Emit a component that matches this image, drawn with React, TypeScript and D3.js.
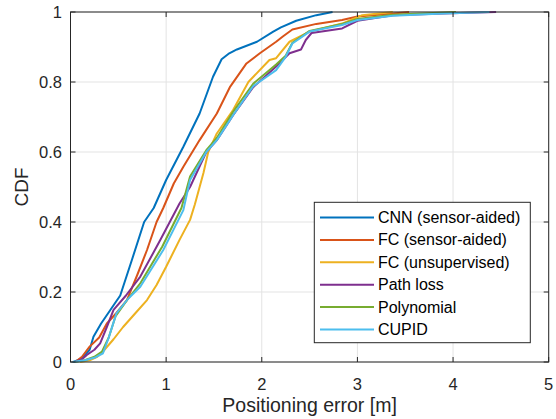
import React from "react";
import * as d3 from "d3";

const W = 556, H = 419;
const M = { left: 70.5, right: 548.7, top: 12, bottom: 362 };

const xTicks = [0, 1, 2, 3, 4, 5];
const yTicks = [0, 0.2, 0.4, 0.6, 0.8, 1];
const yTickLabels = ["0", "0.2", "0.4", "0.6", "0.8", "1"];

const seriesNames = ["CNN (sensor-aided)", "FC (sensor-aided)", "FC (unsupervised)", "Path loss", "Polynomial", "CUPID"];
const seriesColors = ["#0072BD", "#D95319", "#EDB120", "#7E2F8E", "#77AC30", "#4DBEEE"];

// CNN (sensor-aided)
const cnnErr = [0.03, 0.12, 0.2, 0.24, 0.32, 0.42, 0.52, 0.64, 0.77, 0.87, 1.0, 1.18, 1.35, 1.49, 1.58, 1.66, 1.74, 1.95, 2.12, 2.2, 2.36, 2.57, 2.74];
const cnnCdf = [0, 0.01, 0.035, 0.072, 0.11, 0.15, 0.19, 0.29, 0.4, 0.44, 0.52, 0.615, 0.71, 0.815, 0.865, 0.882, 0.893, 0.915, 0.944, 0.956, 0.975, 0.991, 1];
// FC (sensor-aided)
const fcsErr = [0.05, 0.12, 0.2, 0.3, 0.38, 0.48, 0.59, 0.7, 0.8, 0.9, 0.97, 1.08, 1.18, 1.35, 1.53, 1.67, 1.84, 1.98, 2.15, 2.22, 2.32, 2.57, 2.84, 3.0, 3.37, 3.54];
const fcsCdf = [0, 0.015, 0.044, 0.07, 0.11, 0.14, 0.177, 0.25, 0.32, 0.4, 0.44, 0.51, 0.558, 0.634, 0.71, 0.787, 0.853, 0.882, 0.915, 0.93, 0.95, 0.966, 0.977, 0.987, 0.996, 1];
// FC (unsupervised)
const fcuErr = [0.1, 0.2, 0.28, 0.34, 0.45, 0.55, 0.68, 0.8, 0.9, 1.0, 1.14, 1.25, 1.3, 1.39, 1.44, 1.53, 1.7, 1.86, 2.08, 2.15, 2.29, 2.5, 2.84, 3.05, 3.37];
const fcuCdf = [0, 0.005, 0.015, 0.03, 0.065, 0.1, 0.14, 0.177, 0.22, 0.272, 0.349, 0.406, 0.45, 0.54, 0.6, 0.653, 0.72, 0.8, 0.863, 0.868, 0.915, 0.944, 0.967, 0.991, 1];
// Path loss
const plErr = [0.05, 0.12, 0.17, 0.25, 0.31, 0.38, 0.45, 0.58, 0.73, 0.94, 1.14, 1.25, 1.42, 1.53, 1.7, 1.91, 2.15, 2.29, 2.41, 2.46, 2.52, 2.84, 3.0, 3.37, 3.89, 4.45];
const plCdf = [0, 0.008, 0.02, 0.035, 0.053, 0.1, 0.149, 0.19, 0.244, 0.349, 0.453, 0.5, 0.6, 0.634, 0.705, 0.785, 0.844, 0.882, 0.893, 0.92, 0.94, 0.953, 0.975, 0.991, 0.996, 1];
// Polynomial
const polyErr = [0.05, 0.15, 0.25, 0.33, 0.4, 0.47, 0.6, 0.73, 0.96, 1.16, 1.25, 1.42, 1.53, 1.7, 1.91, 2.15, 2.25, 2.32, 2.5, 2.84, 3.0, 3.37, 4.03];
const polyCdf = [0, 0.005, 0.015, 0.03, 0.07, 0.13, 0.18, 0.225, 0.33, 0.44, 0.53, 0.605, 0.64, 0.715, 0.795, 0.85, 0.875, 0.912, 0.946, 0.966, 0.98, 0.992, 1];
// CUPID
const cupErr = [0.02, 0.15, 0.25, 0.34, 0.4, 0.48, 0.6, 0.73, 0.97, 1.18, 1.25, 1.42, 1.53, 1.7, 1.91, 2.15, 2.25, 2.32, 2.5, 2.84, 3.0, 3.37, 3.9, 4.38];
const cupCdf = [0, 0.005, 0.012, 0.025, 0.07, 0.139, 0.18, 0.215, 0.32, 0.434, 0.52, 0.6, 0.634, 0.705, 0.788, 0.834, 0.872, 0.91, 0.944, 0.963, 0.977, 0.989, 0.996, 1];

const seriesErr = [cnnErr, fcsErr, fcuErr, plErr, polyErr, cupErr];
const seriesCdf = [cnnCdf, fcsCdf, fcuCdf, plCdf, polyCdf, cupCdf];

const FONT = "'Liberation Sans', Arial, Helvetica, sans-serif";
const AX = "#262626";
const GRID = "#e3e3e3";

export default function App() {
  const x = d3.scaleLinear().domain([0, 5]).range([M.left, M.right]);
  const y = d3.scaleLinear().domain([0, 1]).range([M.bottom, M.top]);
  const line = d3.line<[number, number]>().x((d) => x(d[0])).y((d) => y(d[1]));
  const tl = 5;

  const lg = { x0: 314.3, x1: 530.3, y0: 202.3, y1: 342.7 };
  const rowH = 22.4;
  const row0 = 217.5;

  return (
    <svg width={W} height={H} style={{ position: "absolute", left: 0, top: 0, background: "#fff" }}>
      <rect x={0} y={0} width={W} height={H} fill="#fff" />
      {xTicks.map((t) => (
        <line key={"gx" + t} x1={x(t)} x2={x(t)} y1={M.top} y2={M.bottom} stroke={GRID} strokeWidth={1} />
      ))}
      {yTicks.map((t) => (
        <line key={"gy" + t} x1={M.left} x2={M.right} y1={y(t)} y2={y(t)} stroke={GRID} strokeWidth={1} />
      ))}
      {seriesErr.map((errs, i) => (
        <path
          key={"s" + i}
          d={line(errs.map((e, j) => [e, seriesCdf[i][j]] as [number, number])) || ""}
          fill="none"
          stroke={seriesColors[i]}
          strokeWidth={2}
          strokeLinejoin="round"
        />
      ))}
      <rect x={M.left} y={M.top} width={M.right - M.left} height={M.bottom - M.top} fill="none" stroke={AX} strokeWidth={1} />
      {xTicks.map((t) => (
        <g key={"tx" + t}>
          <line x1={x(t)} x2={x(t)} y1={M.bottom} y2={M.bottom - tl} stroke={AX} />
          <line x1={x(t)} x2={x(t)} y1={M.top} y2={M.top + tl} stroke={AX} />
          <text x={x(t)} y={389.5} textAnchor="middle" fontFamily={FONT} fontSize={16.5} fill={AX}>
            {t}
          </text>
        </g>
      ))}
      {yTicks.map((t, i) => (
        <g key={"ty" + t}>
          <line x1={M.left} x2={M.left + tl} y1={y(t)} y2={y(t)} stroke={AX} />
          <line x1={M.right} x2={M.right - tl} y1={y(t)} y2={y(t)} stroke={AX} />
          <text x={M.left - 8.5} y={y(t) + 6} textAnchor="end" fontFamily={FONT} fontSize={16.5} fill={AX}>
            {yTickLabels[i]}
          </text>
        </g>
      ))}
      <text x={(M.left + M.right) / 2} y={412} textAnchor="middle" fontFamily={FONT} fontSize={19.5} fill={AX}>
        Positioning error [m]
      </text>
      <text transform={`translate(28, ${(M.top + M.bottom) / 2}) rotate(-90)`} textAnchor="middle" fontFamily={FONT} fontSize={19} fill={AX}>
        CDF
      </text>
      <rect x={lg.x0} y={lg.y0} width={lg.x1 - lg.x0} height={lg.y1 - lg.y0} fill="#fff" stroke={AX} strokeWidth={1} />
      {seriesNames.map((n, i) => (
        <g key={"lg" + i}>
          <line x1={320} x2={374} y1={row0 + i * rowH} y2={row0 + i * rowH} stroke={seriesColors[i]} strokeWidth={2} />
          <text x={378} y={row0 + i * rowH + 5.5} fontFamily={FONT} fontSize={16} fill="#000">
            {n}
          </text>
        </g>
      ))}
    </svg>
  );
}
